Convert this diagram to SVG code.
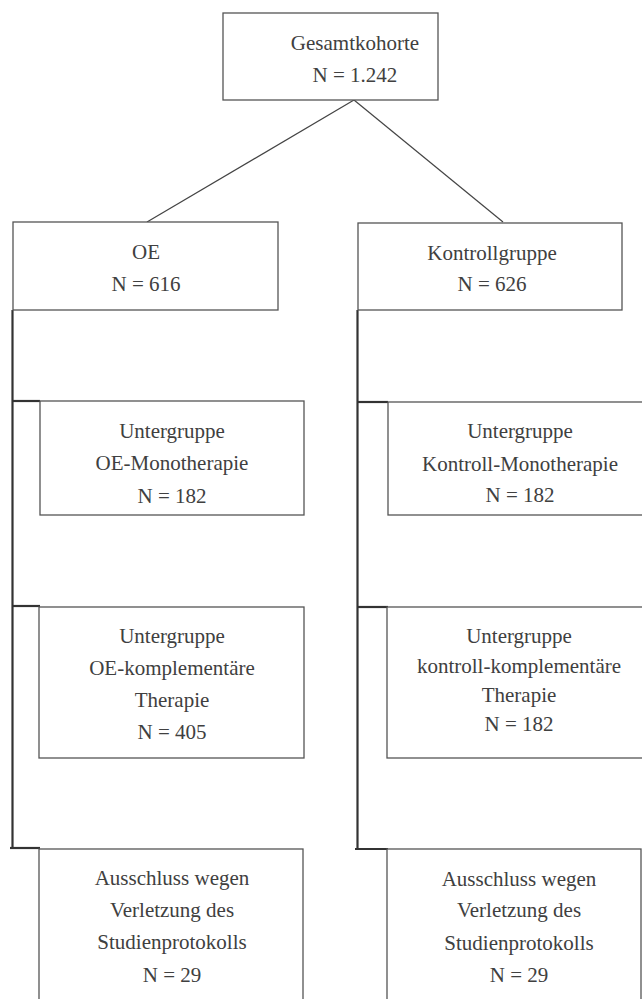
<svg xmlns="http://www.w3.org/2000/svg" width="642" height="999" viewBox="0 0 642 999">
<rect width="642" height="999" fill="#fff"/>
<g id="connectors" fill="none">
<line stroke="#444" stroke-width="1.2" x1="354" y1="100" x2="147" y2="222"/>
<line stroke="#444" stroke-width="1.2" x1="354" y1="100" x2="503" y2="222"/>
<g stroke="#333" stroke-width="2.2">
<polyline points="12.5,310 12.5,848"/>
<polyline points="12.5,401 40,401"/>
<polyline points="12.5,606 40,606"/>
<polyline points="10,848 40,848"/>
<polyline points="357.5,310 357.5,849"/>
<polyline points="357.5,402 388,402"/>
<polyline points="357.5,607 388,607"/>
<polyline points="355,849 388,849"/>
</g>
</g>
<g id="gesamt">
<rect fill="#fff" stroke="#555" stroke-width="1.3" x="223" y="13" width="215" height="87"/>
<text font-family="Liberation Serif" font-size="21" fill="#404040" text-anchor="middle" x="355" y="50">Gesamtkohorte</text>
<text font-family="Liberation Serif" font-size="21" fill="#404040" text-anchor="middle" x="355" y="82">N = 1.242</text>
</g>
<g id="oe">
<rect fill="#fff" stroke="#555" stroke-width="1.3" x="13" y="222" width="265" height="88"/>
<text font-family="Liberation Serif" font-size="21" fill="#404040" text-anchor="middle" x="146" y="259">OE</text>
<text font-family="Liberation Serif" font-size="21" fill="#404040" text-anchor="middle" x="146" y="291">N = 616</text>
</g>
<g id="kontroll">
<rect fill="#fff" stroke="#555" stroke-width="1.3" x="358" y="223" width="264" height="87"/>
<text font-family="Liberation Serif" font-size="21" fill="#404040" text-anchor="middle" x="492" y="260">Kontrollgruppe</text>
<text font-family="Liberation Serif" font-size="21" fill="#404040" text-anchor="middle" x="492" y="291">N = 626</text>
</g>
<g id="oe-mono">
<rect fill="#fff" stroke="#555" stroke-width="1.3" x="40" y="401" width="264" height="114"/>
<text font-family="Liberation Serif" font-size="21" fill="#404040" text-anchor="middle" x="172" y="438">Untergruppe</text>
<text font-family="Liberation Serif" font-size="21" fill="#404040" text-anchor="middle" x="172" y="470">OE-Monotherapie</text>
<text font-family="Liberation Serif" font-size="21" fill="#404040" text-anchor="middle" x="172" y="503">N = 182</text>
</g>
<g id="kontroll-mono">
<rect fill="#fff" stroke="#555" stroke-width="1.3" x="388" y="402" width="270" height="113"/>
<text font-family="Liberation Serif" font-size="21" fill="#404040" text-anchor="middle" x="520" y="438">Untergruppe</text>
<text font-family="Liberation Serif" font-size="21" fill="#404040" text-anchor="middle" x="520" y="471">Kontroll-Monotherapie</text>
<text font-family="Liberation Serif" font-size="21" fill="#404040" text-anchor="middle" x="520" y="502">N = 182</text>
</g>
<g id="oe-komp">
<rect fill="#fff" stroke="#555" stroke-width="1.3" x="39" y="607" width="265" height="151"/>
<text font-family="Liberation Serif" font-size="21" fill="#404040" text-anchor="middle" x="172" y="643">Untergruppe</text>
<text font-family="Liberation Serif" font-size="21" fill="#404040" text-anchor="middle" x="172" y="675">OE-komplementäre</text>
<text font-family="Liberation Serif" font-size="21" fill="#404040" text-anchor="middle" x="172" y="707">Therapie</text>
<text font-family="Liberation Serif" font-size="21" fill="#404040" text-anchor="middle" x="172" y="739">N = 405</text>
</g>
<g id="kontroll-komp">
<rect fill="#fff" stroke="#555" stroke-width="1.3" x="387" y="607" width="270" height="151"/>
<text font-family="Liberation Serif" font-size="21" fill="#404040" text-anchor="middle" x="519" y="643">Untergruppe</text>
<text font-family="Liberation Serif" font-size="21" fill="#404040" text-anchor="middle" x="519" y="673">kontroll-komplementäre</text>
<text font-family="Liberation Serif" font-size="21" fill="#404040" text-anchor="middle" x="519" y="702">Therapie</text>
<text font-family="Liberation Serif" font-size="21" fill="#404040" text-anchor="middle" x="519" y="731">N = 182</text>
</g>
<g id="oe-ausschluss">
<rect fill="#fff" stroke="#555" stroke-width="1.3" x="39" y="849" width="264" height="160"/>
<text font-family="Liberation Serif" font-size="21" fill="#404040" text-anchor="middle" x="172" y="885">Ausschluss wegen</text>
<text font-family="Liberation Serif" font-size="21" fill="#404040" text-anchor="middle" x="172" y="917">Verletzung des</text>
<text font-family="Liberation Serif" font-size="21" fill="#404040" text-anchor="middle" x="172" y="949">Studienprotokolls</text>
<text font-family="Liberation Serif" font-size="21" fill="#404040" text-anchor="middle" x="172" y="982">N = 29</text>
</g>
<g id="kontroll-ausschluss">
<rect fill="#fff" stroke="#555" stroke-width="1.3" x="387" y="849" width="254" height="160"/>
<text font-family="Liberation Serif" font-size="21" fill="#404040" text-anchor="middle" x="519" y="886">Ausschluss wegen</text>
<text font-family="Liberation Serif" font-size="21" fill="#404040" text-anchor="middle" x="519" y="917">Verletzung des</text>
<text font-family="Liberation Serif" font-size="21" fill="#404040" text-anchor="middle" x="519" y="950">Studienprotokolls</text>
<text font-family="Liberation Serif" font-size="21" fill="#404040" text-anchor="middle" x="519" y="982">N = 29</text>
</g>
</svg>
